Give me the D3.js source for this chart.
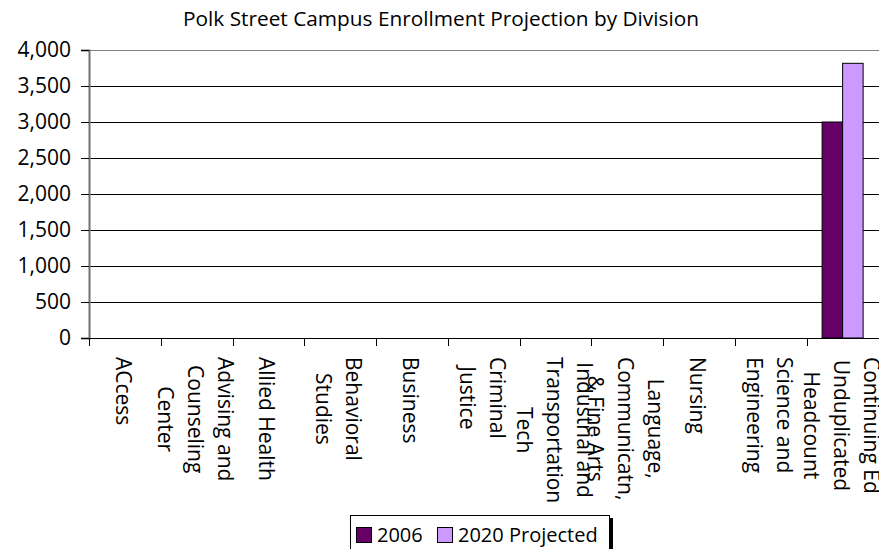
<!DOCTYPE html>
<html>
<head>
<meta charset="utf-8">
<script src="https://cdn.jsdelivr.net/npm/d3@7"></script>
<style>
body { margin: 0; background: white; }
text { font-family: "Open Sans", sans-serif; fill: black; }
</style>
</head>
<body>
<div id="chart"></div>
<script>
var width = 879;
var height = 549;

var title = "Polk Street Campus Enrollment Projection by Division";
var divisions = [
    "ACcess",
    "Advising and\nCounseling\nCenter",
    "Allied Health",
    "Behavioral\nStudies",
    "Business",
    "Criminal\nJustice",
    "Industrial and\nTransportation\nTech",
    "Language,\nCommunicatn,\n& Fine Arts",
    "Nursing",
    "Science and\nEngineering",
    "Continuing Ed\nUnduplicated\nHeadcount"
];
var seriesNames = ["2006", "2020 Projected"];
var values2006 = [null, null, null, null, null, null, null, null, null, null, 3000];
var values2020 = [null, null, null, null, null, null, null, null, null, null, 3815];
var yTicks = [0, 500, 1000, 1500, 2000, 2500, 3000, 3500, 4000];
var colors = ["#660066", "#CC99FF"];

var svg = d3.select("#chart")
    .append("svg")
    .attr("width", width)
    .attr("height", height);

var plotLeft = 89, plotRight = 878.5, plotTop = 50, plotBottom = 338;

var x = d3.scaleBand()
    .domain(divisions)
    .range([plotLeft, plotRight])
    .paddingInner(0)
    .paddingOuter(0);

var xs = d3.scaleBand()
    .domain(seriesNames)
    .range([0, x.bandwidth()])
    .paddingInner(0)
    .paddingOuter(0.75);

var y = d3.scaleLinear()
    .domain([0, 4000])
    .range([plotBottom, plotTop]);

// title
svg.append("text")
    .attr("x", 441)
    .attr("y", 26)
    .attr("text-anchor", "middle")
    .attr("font-size", "20.8px")
    .text(title);

// gridlines
svg.append("g")
    .selectAll("line")
    .data(yTicks.slice(1))
    .enter().append("line")
    .attr("x1", plotLeft)
    .attr("x2", width)
    .attr("y1", function (d) { return Math.round(y(d)) + 0.5; })
    .attr("y2", function (d) { return Math.round(y(d)) + 0.5; })
    .attr("stroke", function (d) { return d == 4000 ? "#808080" : "black"; })
    .attr("stroke-width", 1);

// bars
var rows = divisions.map(function (d, i) {
    return { name: d, vals: [values2006[i], values2020[i]] };
});
var groups = svg.append("g")
    .selectAll("g")
    .data(rows)
    .enter().append("g")
    .attr("transform", function (d) { return "translate(" + x(d.name) + ",0)"; });

groups.selectAll("rect")
    .data(function (d) {
        return d.vals.map(function (v, j) { return { s: seriesNames[j], v: v, c: colors[j] }; })
            .filter(function (e) { return e.v != null; });
    })
    .enter().append("rect")
    .attr("x", function (d) { return xs(d.s); })
    .attr("y", function (d) { return y(d.v); })
    .attr("width", xs.bandwidth())
    .attr("height", function (d) { return plotBottom - y(d.v); })
    .attr("fill", function (d) { return d.c; })
    .attr("stroke", "black")
    .attr("stroke-width", 1);

// y axis
var yAxis = d3.axisLeft(y)
    .tickValues(yTicks)
    .tickSize(8)
    .tickPadding(10)
    .tickFormat(d3.format(","));
var yg = svg.append("g")
    .attr("transform", "translate(" + plotLeft + ",0)")
    .call(yAxis);
yg.select(".domain").attr("stroke", "#707070").attr("stroke-width", 2);
yg.selectAll(".tick line").attr("stroke", "black");
yg.selectAll(".tick text")
    .attr("font-size", "21px")
    .attr("font-family", "Open Sans, sans-serif");

// x axis line and ticks
svg.append("line")
    .attr("x1", plotLeft).attr("x2", width)
    .attr("y1", plotBottom + 0.5).attr("y2", plotBottom + 0.5)
    .attr("stroke", "black");
var xTicks = divisions.map(function (d) { return x(d); }).concat([plotRight]);
svg.append("g")
    .selectAll("line")
    .data(xTicks)
    .enter().append("line")
    .attr("x1", function (d) { return Math.round(d) + 0.5; })
    .attr("x2", function (d) { return Math.round(d) + 0.5; })
    .attr("y1", plotBottom)
    .attr("y2", plotBottom + 8)
    .attr("stroke", "black");

// x labels, rotated 90 degrees
var lineGap = 30;
divisions.forEach(function (d) {
    var lines = d.split("\n");
    var cx = x(d) + x.bandwidth() / 2 - 1;
    var g = svg.append("g")
        .attr("transform", "translate(" + cx + "," + 357 + ") rotate(90)");
    var texts = g.selectAll("text")
        .data(lines)
        .enter().append("text")
        .attr("font-size", "21px")
        .attr("text-anchor", "middle")
        .attr("dominant-baseline", "central")
        .attr("y", function (l, i) { return (i - (lines.length - 1) / 2) * lineGap; })
        .text(function (l) { return l; });
    var w = 0;
    texts.each(function () { w = Math.max(w, this.getComputedTextLength()); });
    texts.attr("x", w / 2);
});

// legend
var lg = svg.append("g").attr("transform", "translate(350,515)");
lg.append("rect")
    .attr("x", 3).attr("y", 3)
    .attr("width", 260).attr("height", 50)
    .attr("fill", "black");
lg.append("rect")
    .attr("x", 0.5).attr("y", 0.5)
    .attr("width", 259).attr("height", 50)
    .attr("fill", "white")
    .attr("stroke", "black");
var legendX = [6, 87];
var items = lg.selectAll("g.item")
    .data(seriesNames)
    .enter().append("g")
    .attr("class", "item")
    .attr("transform", function (d, i) { return "translate(" + legendX[i] + ",12)"; });
items.append("rect")
    .attr("x", 0.5).attr("y", 0.5)
    .attr("width", 15).attr("height", 15)
    .attr("fill", function (d, i) { return colors[i]; })
    .attr("stroke", "black");
items.append("text")
    .attr("x", 21)
    .attr("y", 15)
    .attr("font-size", "20px")
    .text(function (d) { return d; });
</script>
</body>
</html>
